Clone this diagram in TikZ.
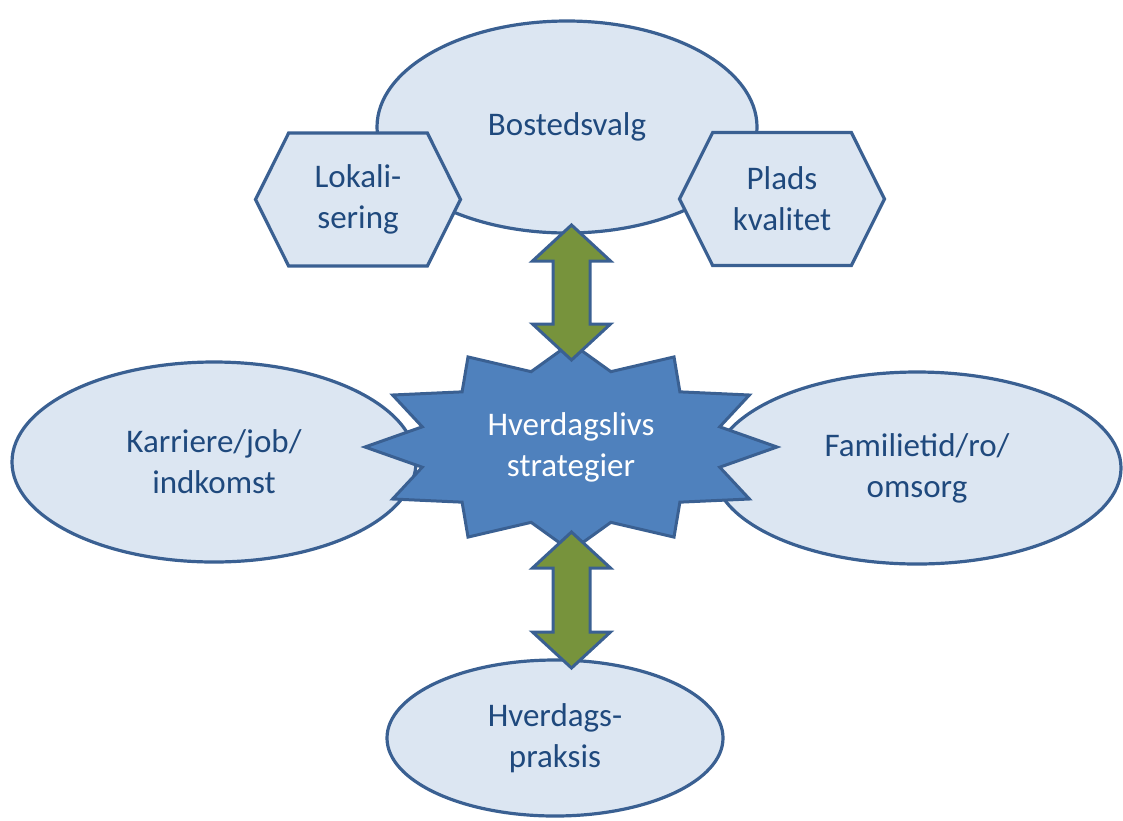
\documentclass[tikz,border=0pt]{standalone}
\usepackage{fontspec}
\setmainfont{Carlito}
\usetikzlibrary{shapes.geometric,shapes.symbols,calc}

\definecolor{bubblefill}{HTML}{DCE6F2}
\definecolor{bubbleline}{HTML}{3A6092}
\definecolor{bubbletext}{HTML}{1F497D}
\definecolor{starfill}{HTML}{4F81BD}
\definecolor{arrowfill}{HTML}{77933C}

% vertical block arrow with two heads, #1 = upper tip, #2 = lower tip
\newcommand{\dblarrow}[2]{%
  \filldraw[connect] (#1) -- ($(#1)+(39,36)$) -- ($(#1)+(18.5,36)$)
    -- ($(#2)+(18.5,-36)$) -- ($(#2)+(39,-36)$) -- (#2)
    -- ($(#2)+(-39,-36)$) -- ($(#2)+(-18.5,-36)$)
    -- ($(#1)+(-18.5,36)$) -- ($(#1)+(-39,36)$) -- cycle;}

\begin{document}
\begin{tikzpicture}[x=1pt,y=-1pt,
    font=\fontsize{33}{41}\selectfont,
    bubble/.style={ellipse, draw=bubbleline, fill=bubblefill, line width=3.2pt,
                   text=bubbletext, align=center, inner sep=0pt}]
    \tikzstyle{hexa}=[signal, signal to=west and east, signal pointer angle=127,
                      draw=bubbleline, fill=bubblefill, line width=3.2pt,
                      text=bubbletext, align=center, inner sep=0pt,
                      minimum width=205, minimum height=133]
    \tikzstyle{connect}=[draw=bubbleline, fill=arrowfill, line width=3pt, line join=miter]
    \tikzstyle{starshape}=[draw=bubbleline, fill=starfill, line width=3pt, line join=miter]

      \useasboundingbox (0,0) rectangle (1123,820);

      \node[bubble, minimum width=380, minimum height=212] (bosted) at (567,127) {Bostedsvalg};
      \node[hexa] (lokal) at (358,199.5) {Lokali-\\sering};
      \node[hexa] (plads) at (782,199) {Plads\\kvalitet};
      \node[bubble, minimum width=404, minimum height=200] (karriere) at (214,462) {Karriere/job/\\indkomst};
      \node[bubble, minimum width=408, minimum height=192] (familie) at (917,468) {Familietid/ro/\\omsorg};

      % star behind the centre text
      \coordinate (sc) at (571,447);
      \filldraw[starshape] ([shift={(sc)}]0:206 and 104)
        \foreach \a in {30,60,...,330} {-- ([shift={(sc)}]\a-15:154 and 78) -- ([shift={(sc)}]\a:206 and 104)}
        -- ([shift={(sc)}]345:154 and 78) -- cycle;
      \node[text=white, align=center, inner sep=0pt] (strat) at (sc) {Hverdagslivs\\strategier};

      \node[bubble, minimum width=336, minimum height=156] (praksis) at (555,738) {Hverdags-\\praksis};

      \coordinate (a1) at (571.5,225);
      \coordinate (a2) at (571.5,360);
      \coordinate (b1) at (571.5,532);
      \coordinate (b2) at (571.5,668);
      \dblarrow{a1}{a2}
      \dblarrow{b1}{b2}
    \end{tikzpicture}
\end{document}
